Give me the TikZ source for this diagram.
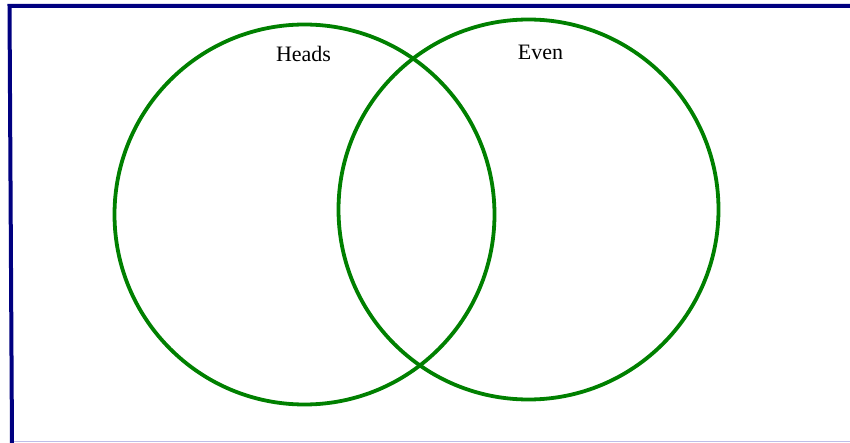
\documentclass[tikz,border=0pt]{standalone}
\usepackage{fontspec}
\setmainfont{Liberation Serif}
\usetikzlibrary{positioning}
\definecolor{framenavy}{RGB}{0,0,128}
\definecolor{framelight}{RGB}{190,190,232}
\definecolor{setgreen}{RGB}{0,128,0}

\begin{document}
\begin{tikzpicture}[
    x=1pt, y=-1pt,
    every node/.style={font=\fontsize{22}{25}\selectfont},
    setcircle/.style={draw=setgreen, line width=3.8pt, circle, minimum size=380pt, inner sep=0pt},
    setlabel/.style={inner sep=0pt, anchor=base},
    frame/.style={draw=framenavy, line width=4pt}
]
\useasboundingbox (0,0) rectangle (850,443);

% frame
\draw[draw=framelight, line width=1.5pt] (12,441.5) -- (850,441.5);
\draw[frame] (12,443) -- (9.5,6) -- (850,6);

% the two sets
\node[setcircle] (heads) at (304.5,214.5) {};
\node[setcircle] (even) at (528.5,209.5) {};

\node[setlabel] (headslbl) at (303.5,61.5) {Heads};
\node[setlabel] (evenlbl) at (540.5,59.5) {Even};
\end{tikzpicture}
\end{document}
